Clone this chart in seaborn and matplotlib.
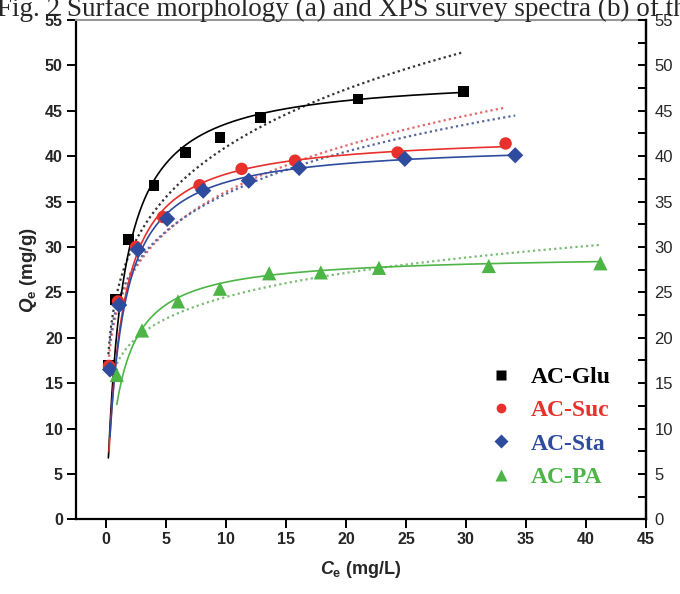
import numpy as np
import pandas as pd
import matplotlib
matplotlib.use("Agg")
import matplotlib.pyplot as plt
from matplotlib.ticker import MultipleLocator
from matplotlib.lines import Line2D
import seaborn as sns

# ---------------- data ----------------
series_names = ["AC-Glu", "AC-Suc", "AC-Sta", "AC-PA"]

glu_ce = [0.2, 0.8, 1.9, 4.0, 6.6, 9.5, 12.9, 21.0, 29.8]
glu_qe = [17.0, 24.2, 30.8, 36.8, 40.4, 42.1, 44.3, 46.3, 47.1]

suc_ce = [0.25, 1.0, 2.5, 4.75, 7.8, 11.3, 15.75, 24.3, 33.3]
suc_qe = [16.9, 24.0, 30.0, 33.3, 36.8, 38.6, 39.5, 40.4, 41.4]

sta_ce = [0.33, 1.1, 2.65, 5.1, 8.1, 11.9, 16.1, 24.9, 34.1]
sta_qe = [16.5, 23.6, 29.7, 33.1, 36.2, 37.3, 38.7, 39.7, 40.1]

pa_ce = [0.9, 3.0, 6.0, 9.5, 13.6, 17.9, 22.75, 31.9, 41.2]
pa_qe = [15.9, 20.8, 24.0, 25.4, 27.1, 27.2, 27.7, 27.9, 28.2]

# isotherm model parameters
langmuir_qm = [49.0, 42.5, 41.5, 29.2]      # mg/g
langmuir_k = [0.80, 0.85, 0.85, 0.85]       # L/mg
freundlich_kf = [25.4, 23.3, 23.9, 17.4]
freundlich_b = [0.208, 0.190, 0.176, 0.1485]  # 1/n

x_ticks = [0, 5, 10, 15, 20, 25, 30, 35, 40, 45]
y_ticks = [0, 5, 10, 15, 20, 25, 30, 35, 40, 45, 50, 55]

colors = {"AC-Glu": "#000000", "AC-Suc": "#e8302c", "AC-Sta": "#2e4b9e", "AC-PA": "#4cb546"}
dot_colors = {"AC-Glu": "#333333", "AC-Suc": "#e06868", "AC-Sta": "#55679e", "AC-PA": "#7dbb78"}
markers = {"AC-Glu": "s", "AC-Suc": "o", "AC-Sta": "D", "AC-PA": "^"}
msizes = {"AC-Glu": 62, "AC-Suc": 80, "AC-Sta": 68, "AC-PA": 105}

ce_all = [glu_ce, suc_ce, sta_ce, pa_ce]
qe_all = [glu_qe, suc_qe, sta_qe, pa_qe]

points = pd.concat(
    [pd.DataFrame({"Ce": c, "Qe": q, "sample": n}) for n, c, q in zip(series_names, ce_all, qe_all)],
    ignore_index=True,
)

curve_frames = []
for n, c, qm, K, kf, b in zip(series_names, ce_all, langmuir_qm, langmuir_k, freundlich_kf, freundlich_b):
    xs = np.linspace(min(c), max(c), 400)
    curve_frames.append(pd.DataFrame({"Ce": xs, "Qe": qm * K * xs / (1 + K * xs), "sample": n, "model": "Langmuir"}))
    curve_frames.append(pd.DataFrame({"Ce": xs, "Qe": kf * xs ** b, "sample": n, "model": "Freundlich"}))
curves = pd.concat(curve_frames, ignore_index=True)

# ---------------- plotting ----------------
sns.set_theme(style="white")
plt.rcParams["font.family"] = ["Liberation Sans", "DejaVu Sans"]
plt.rcParams["mathtext.fontset"] = "custom"
plt.rcParams["mathtext.it"] = "Liberation Sans:italic:bold"
plt.rcParams["mathtext.rm"] = "Liberation Sans:bold"
plt.rcParams["mathtext.bf"] = "Liberation Sans:bold"

fig = plt.figure(figsize=(6.8, 5.94), dpi=100)
ax = fig.add_axes([76 / 680, 1 - 519.3 / 594, 570 / 680, 499.3 / 594])

for n in series_names:
    d = curves[(curves["sample"] == n) & (curves["model"] == "Freundlich")]
    sns.lineplot(data=d, x="Ce", y="Qe", ax=ax, color=dot_colors[n], lw=1.6,
                 linestyle=(0, (1, 1.4)), sort=False, legend=False)
for n in series_names:
    d = curves[(curves["sample"] == n) & (curves["model"] == "Langmuir")]
    sns.lineplot(data=d, x="Ce", y="Qe", ax=ax, color=colors[n], lw=1.2,
                 sort=False, legend=False)
for n in series_names:
    d = points[points["sample"] == n]
    sns.scatterplot(data=d, x="Ce", y="Qe", ax=ax, color=colors[n], marker=markers[n],
                    s=msizes[n], edgecolor="none", legend=False, zorder=5)

ax.set_xlim(-2.5, 45)
ax.set_ylim(0, 55)
ax.set_xticks(x_ticks)
ax.set_yticks(y_ticks)
ax.set_xticklabels([str(t) for t in x_ticks], fontweight="bold", fontsize=11.5)
ax.set_yticklabels([str(t) for t in y_ticks], fontweight="bold", fontsize=11.5)
ax.tick_params(axis="both", which="major", direction="out", length=6.5, width=1.4,
               color="black", pad=3, bottom=True, left=True, top=False, right=False)

ax.set_xlabel(r"$C_{\mathrm{e}}$ (mg/L)", fontsize=13, fontweight="bold", labelpad=8)
ax.set_ylabel(r"$Q_{\mathrm{e}}$ (mg/g)", fontsize=13.5, fontweight="bold", labelpad=4)

for s in ["left", "bottom", "right"]:
    ax.spines[s].set_color("black")
    ax.spines[s].set_linewidth(1.6)
ax.spines["top"].set_color("#9a9a9a")
ax.spines["top"].set_linewidth(1.5)

ax2 = ax.twinx()
ax2.set_ylim(0, 55)
ax2.set_yticks(y_ticks)
ax2.set_yticklabels([str(t) for t in y_ticks], fontsize=12)
ax2.yaxis.set_minor_locator(MultipleLocator(2.5))
ax2.tick_params(axis="y", which="both", direction="in", length=6, width=1.4, color="black",
                pad=6, right=True, left=False)
for s in ["left", "bottom", "top"]:
    ax2.spines[s].set_visible(False)
ax2.spines["right"].set_color("black")
ax2.spines["right"].set_linewidth(1.6)
ax2.grid(False)
ax.grid(False)

handles = [Line2D([0], [0], marker=markers[n], color="none", markerfacecolor=colors[n],
                  markeredgecolor="none", markersize=7 if n != "AC-PA" else 8)
           for n in series_names]
leg = ax.legend(handles, series_names, loc="upper left", bbox_to_anchor=(0.705, 0.33),
                frameon=False, handlelength=1.0, handletextpad=0.75, labelspacing=0.5,
                borderpad=0, prop={"family": "Liberation Serif", "weight": "bold", "size": 17})
for t, n in zip(leg.get_texts(), series_names):
    t.set_color(colors[n])

fig.text(-0.004, 1 - 16 / 594, "Fig. 2 Surface morphology (a) and XPS survey spectra (b) of the",
         fontsize=19.5, family="Liberation Serif", ha="left", va="baseline")

fig.savefig("out.png", dpi=100)
